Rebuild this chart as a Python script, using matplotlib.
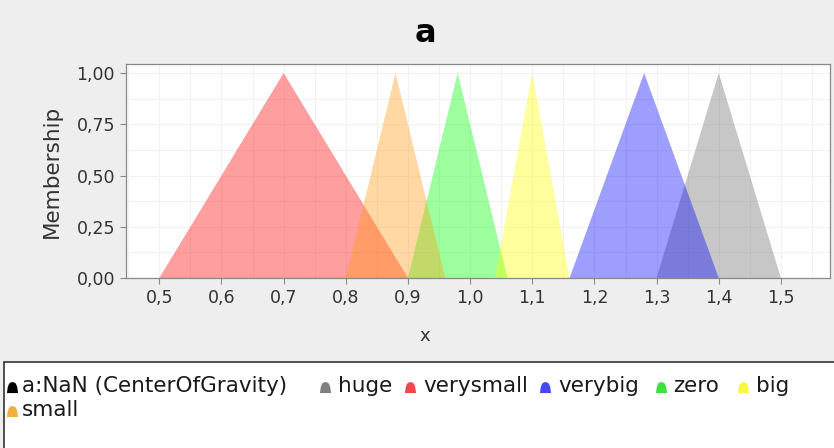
import matplotlib
matplotlib.use("Agg")
import matplotlib.pyplot as plt
from matplotlib.path import Path
from matplotlib.patches import Rectangle
from matplotlib.ticker import FuncFormatter, MultipleLocator

# ---- data ----
title = "a"
x_label = "x"
y_label = "Membership"
series_names = ["huge", "verysmall", "verybig", "zero", "big", "small"]
series_x = {
    "huge": [1.30, 1.40, 1.50],
    "verysmall": [0.50, 0.70, 0.90],
    "verybig": [1.16, 1.28, 1.40],
    "zero": [0.90, 0.98, 1.06],
    "big": [1.04, 1.10, 1.16],
    "small": [0.80, 0.88, 0.96],
}
series_y = [0.0, 1.0, 0.0]
legend_order = ["a", "huge", "verysmall", "verybig", "zero", "big", "small"]
legend_labels = {"a": "a:NaN (CenterOfGravity)"}
colors = {
    "huge": "#6E6E6E",
    "verysmall": "#FF0000",
    "verybig": "#0000FF",
    "zero": "#00FF00",
    "big": "#FFFF00",
    "small": "#FF9A10",
}
legend_colors = {
    "a": "#000000",
    "huge": "#808080",
    "verysmall": "#F04848",
    "verybig": "#4848F0",
    "zero": "#40E040",
    "big": "#F8F840",
    "small": "#F0B040",
}
xticks = [0.5, 0.6, 0.7, 0.8, 0.9, 1.0, 1.1, 1.2, 1.3, 1.4, 1.5]
yticks = [0.0, 0.25, 0.5, 0.75, 1.0]

W, H = 834, 448
fig = plt.figure(figsize=(W / 100, H / 100), dpi=100, facecolor="#EEEEEE")

ax = fig.add_axes([126 / W, 1 - 278 / H, (830 - 126) / W, (278 - 64) / H])
ax.set_facecolor("white")

for name in series_names:
    ax.fill(series_x[name], series_y, color=colors[name], alpha=0.38, lw=0)

ax.set_xlim(0.4464, 1.579)
ax.set_ylim(0, 1.044)
ax.set_xticks(xticks)
ax.set_yticks(yticks)
ax.xaxis.set_major_formatter(FuncFormatter(lambda v, p: f"{v:.1f}".replace(".", ",")))
ax.yaxis.set_major_formatter(FuncFormatter(lambda v, p: f"{v:.2f}".replace(".", ",")))
ax.xaxis.set_minor_locator(MultipleLocator(0.05))
ax.yaxis.set_minor_locator(MultipleLocator(0.125))
ax.grid(True, which="both", color="#F2F2F2", lw=0.8)
ax.set_axisbelow(True)
for s in ax.spines.values():
    s.set_color("#888888")
    s.set_linewidth(0.9)
ax.tick_params(axis="both", which="major", direction="out", length=4, color="#888888",
               labelsize=12.5, labelcolor="#333333", pad=4)
ax.tick_params(axis="both", which="minor", length=0)
for lab in ax.get_xticklabels() + ax.get_yticklabels():
    lab.set_family("DejaVu Sans")

fig.text(52 / W, 1 - 171 / H, y_label, rotation=90, ha="center", va="center",
         fontsize=15.5, color="#333333", family="DejaVu Sans")
fig.text(425 / W, 1 - 336 / H, x_label, ha="center", va="center",
         fontsize=13, color="#333333", family="DejaVu Sans")
fig.text(425 / W, 1 - 34 / H, title, ha="center", va="center",
         fontsize=23, fontweight="bold", color="black", family="DejaVu Sans")

# legend (manual layout in pixel coordinates)
lax = fig.add_axes([0, 0, 1, 1], facecolor="none")
lax.set_xlim(0, W)
lax.set_ylim(H, 0)
lax.axis("off")
lax.add_patch(Rectangle((4, 362), W + 10, 100, facecolor="white",
                        edgecolor="#333333", lw=1.2, zorder=0))

bell = Path([(-1, -1), (1, -1), (0.85, 0.1), (0.6, 0.7), (0.25, 0.95), (-0.25, 0.95),
             (-0.6, 0.7), (-0.85, 0.1), (-1, -1)])

# (marker x, text x, row y) per legend entry — layout only
slots = [(12, 22, 386), (325, 338, 386), (410, 423, 386), (545, 558, 386),
         (661, 673, 386), (743, 756, 386), (12, 22, 410)]
for key, (mx, tx, ry) in zip(legend_order, slots):
    lax.plot([mx], [ry + 1], ls="", marker=bell, markersize=8,
             color=legend_colors[key], markeredgewidth=0)
    lax.text(tx, ry, legend_labels.get(key, key), ha="left", va="center",
             fontsize=15.5, color="#1A1A1A", family="DejaVu Sans")

fig.savefig("out.png", dpi=100, facecolor=fig.get_facecolor())
